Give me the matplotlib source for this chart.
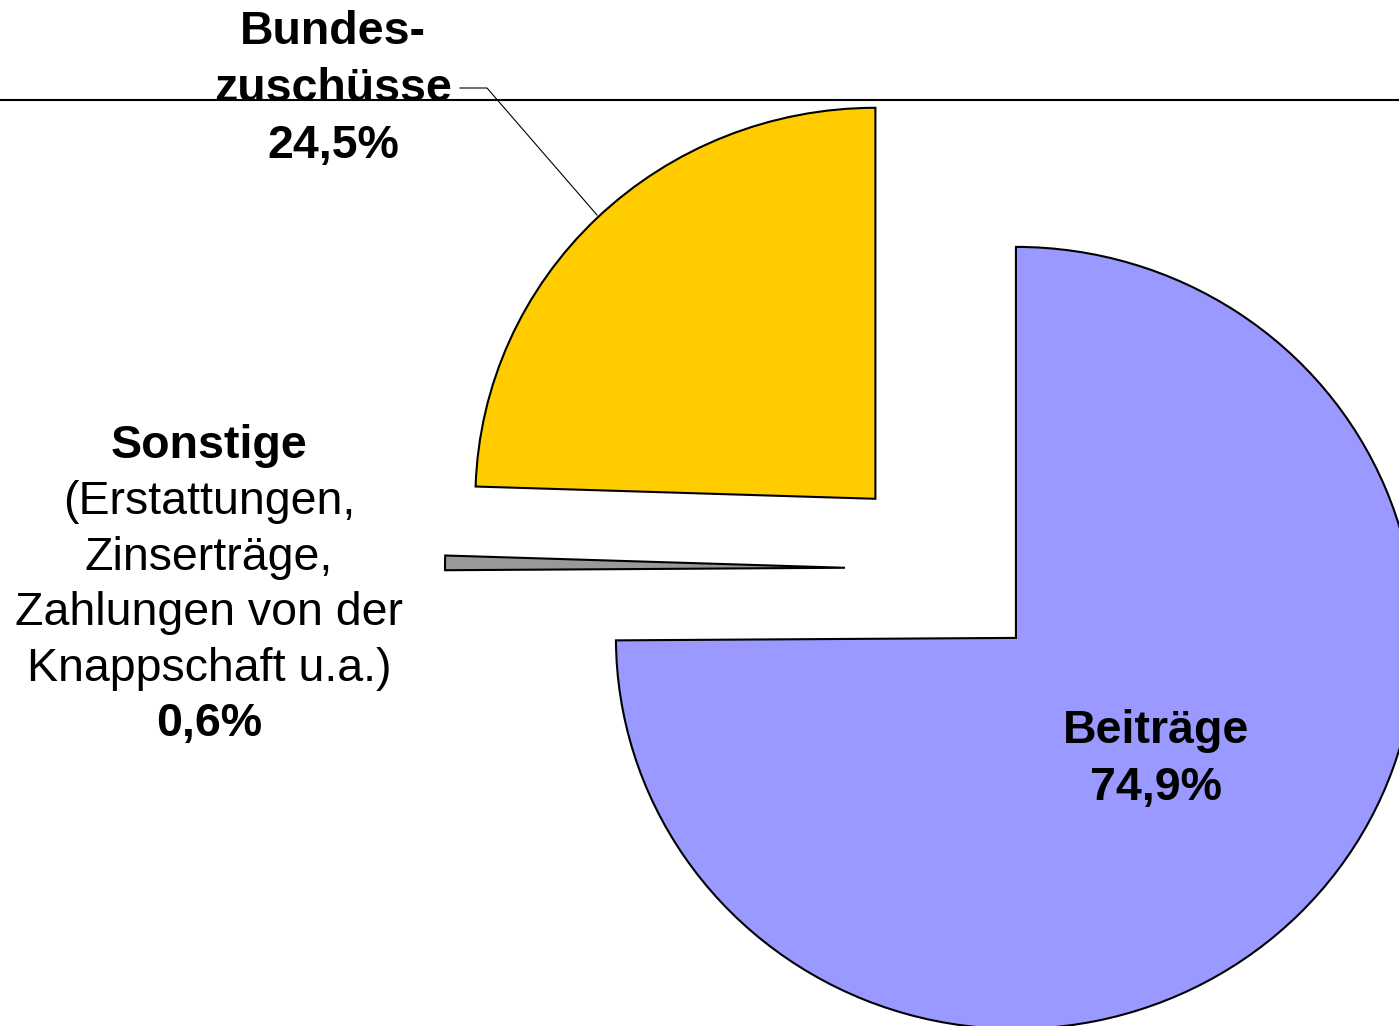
import matplotlib

matplotlib.use("Agg")
import matplotlib.pyplot as plt  # noqa: E402

# shares of revenue, clockwise from 12 o'clock
categories = ["Beiträge", "Sonstige", "Bundeszuschüsse"]
shares = [74.9, 0.6, 24.5]
colors = ["#9999FF", "#999999", "#FFCC00"]

W, H = 1399, 1026
# the original pie is slightly squashed vertically
SY = 400 / 391
plt.rcParams["font.family"] = ["Liberation Sans", "DejaVu Sans"]

fig = plt.figure(figsize=(W / 100, H / 100), dpi=100)
ax = fig.add_axes([0, 0, 1, 1])


# pixel-space helper: y measured from the top
def py(y):
    return (H - y) * SY


ax.pie(
    shares,
    colors=colors,
    startangle=90,
    counterclock=False,
    radius=400,
    center=(945, py(569)),
    explode=[100, 100, 100],
    wedgeprops=dict(edgecolor="black", linewidth=1.5),
    frame=True,
)
ax.set_aspect("auto")
ax.set_xlim(0, W)
ax.set_ylim(0, H * SY)
ax.axis("off")

# plot area top border
ax.plot([0, W], [py(100), py(100)], color="black", lw=1.5)

fs = 33.5
pct = [f"{v:.1f}%".replace(".", ",") for v in shares]

# Bundeszuschüsse label with leader
for y, line in [(32, "Bundes-"), (89, "zuschüsse"), (146, pct[2])]:
    ax.text(333, py(y), line, ha="center", va="center", fontsize=fs, fontweight="bold")
ax.plot([460, 487, 597], [py(88), py(88), py(215)], color="black", lw=0.8)

# Sonstige label
ax.text(209, py(446), "Sonstige", ha="center", va="center", fontsize=fs, fontweight="bold")
for i, line in enumerate(["(Erstattungen,", "Zinserträge,", "Zahlungen von der",
                          "Knappschaft u.a.)"]):
    ax.text(209, py(502 + 55.6 * i), line, ha="center", va="center", fontsize=fs)
ax.text(209, py(724), pct[1], ha="center", va="center", fontsize=fs, fontweight="bold")

# Beiträge label
ax.text(1156, py(731), "Beiträge", ha="center", va="center", fontsize=fs, fontweight="bold")
ax.text(1156, py(788), pct[0], ha="center", va="center", fontsize=fs, fontweight="bold")

fig.savefig("out.png", dpi=100)
